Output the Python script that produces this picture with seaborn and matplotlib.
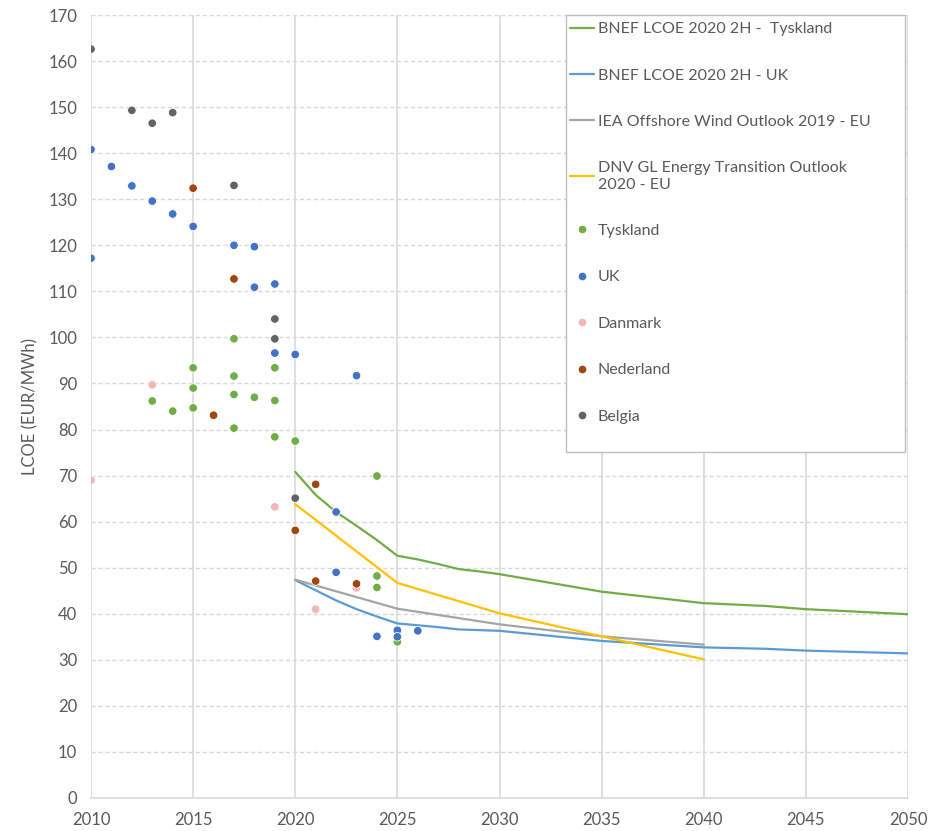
import numpy as np
import pandas as pd
import matplotlib
matplotlib.use("Agg")
import matplotlib.pyplot as plt
import seaborn as sns
from matplotlib.lines import Line2D
from matplotlib.patches import Rectangle

# --- auction / project data points (year, LCOE EUR/MWh) ---
tyskland_year = [2013, 2014, 2015, 2015, 2015, 2017, 2017, 2017, 2017, 2018,
                 2019, 2019, 2019, 2020, 2024, 2024, 2024, 2025]
tyskland_val = [86.2, 84.0, 93.4, 89.0, 84.7, 99.7, 91.6, 87.6, 80.3, 87.0,
                93.4, 86.3, 78.4, 77.5, 69.9, 48.2, 45.7, 33.9]

uk_year = [2010, 2010, 2011, 2012, 2013, 2014, 2015, 2017, 2018, 2018,
           2019, 2019, 2020, 2022, 2022, 2023, 2024, 2025, 2025, 2026]
uk_val = [140.8, 117.2, 137.1, 132.9, 129.6, 126.8, 124.1, 120.0, 119.7, 110.9,
          111.6, 96.6, 96.3, 62.1, 49.0, 91.7, 35.1, 36.4, 35.0, 36.3]

danmark_year = [2010, 2013, 2019, 2021, 2023]
danmark_val = [69.0, 89.7, 63.2, 41.0, 45.6]

nederland_year = [2015, 2016, 2017, 2020, 2021, 2021, 2023]
nederland_val = [132.4, 83.1, 112.7, 58.1, 68.1, 47.1, 46.5]

belgia_year = [2010, 2012, 2013, 2014, 2017, 2019, 2019, 2020]
belgia_val = [162.6, 149.3, 146.5, 148.8, 133.0, 104.0, 99.7, 65.1]

# --- outlook curves ---
bnef_de_year = [2020, 2021, 2022, 2023, 2024, 2025, 2026, 2027, 2028, 2029,
                2030, 2035, 2040, 2043, 2045, 2050]
bnef_de_val = [70.8, 65.8, 62.1, 59.1, 56.0, 52.6, 51.8, 50.8, 49.7, 49.2,
               48.6, 44.8, 42.3, 41.7, 41.0, 39.9]

bnef_uk_year = [2020, 2021, 2022, 2023, 2024, 2025, 2026, 2027, 2028, 2030,
                2035, 2040, 2043, 2045, 2050]
bnef_uk_val = [47.3, 45.1, 42.9, 41.0, 39.4, 37.9, 37.5, 37.1, 36.6, 36.3,
               34.1, 32.7, 32.4, 32.0, 31.4]

iea_year = [2020, 2025, 2030, 2035, 2040]
iea_val = [47.4, 41.1, 37.7, 35.1, 33.3]

dnv_year = [2020, 2025, 2030, 2035, 2040]
dnv_val = [63.8, 46.7, 40.1, 35.1, 30.1]

line_names = ["BNEF LCOE 2020 2H -  Tyskland", "BNEF LCOE 2020 2H - UK",
              "IEA Offshore Wind Outlook 2019 - EU",
              "DNV GL Energy Transition Outlook\n2020 - EU"]
line_colors = ["#70AD47", "#5B9BD5", "#A5A5A5", "#FFC000"]
point_names = ["Tyskland", "UK", "Danmark", "Nederland", "Belgia"]
point_colors = ["#70AD47", "#4472C4", "#F4B6B6", "#9E480E", "#636363"]

lines_df = pd.concat([
    pd.DataFrame({"year": y, "lcoe": v, "serie": n})
    for y, v, n in zip([bnef_de_year, bnef_uk_year, iea_year, dnv_year],
                       [bnef_de_val, bnef_uk_val, iea_val, dnv_val], line_names)
])
points_df = pd.concat([
    pd.DataFrame({"year": y, "lcoe": v, "land": n})
    for y, v, n in zip([tyskland_year, uk_year, danmark_year, nederland_year, belgia_year],
                       [tyskland_val, uk_val, danmark_val, nederland_val, belgia_val],
                       point_names)
])

sns.set_theme(style="white")
plt.rcParams["font.family"] = ["Lato", "DejaVu Sans"]

fig = plt.figure(figsize=(9.5, 8.31), dpi=100)
ax = fig.add_axes([91 / 950, 1 - 798 / 831, 817 / 950, 783 / 831])

sns.lineplot(data=lines_df, x="year", y="lcoe", hue="serie", hue_order=line_names,
             palette=line_colors, linewidth=1.6, legend=False, ax=ax, zorder=2)
sns.scatterplot(data=points_df, x="year", y="lcoe", hue="land", hue_order=point_names,
                palette=point_colors, s=38, edgecolor="white", linewidth=0.6,
                legend=False, ax=ax, zorder=3)

ax.set_xlim(2010, 2050)
ax.set_ylim(0, 170)
ax.set_xticks(range(2010, 2051, 5))
ax.set_yticks(range(0, 171, 10))
ax.set_xlabel("")
ax.set_ylabel("LCOE (EUR/MWh)", fontsize=12, color="#595959", labelpad=7)

ax.grid(axis="x", color="#D9D9D9", linewidth=1.2, linestyle="-")
ax.grid(axis="y", color="#D9D9D9", linewidth=1.0, linestyle=(0, (3, 2)))
ax.set_axisbelow(True)
for side in ["top", "right", "left"]:
    ax.spines[side].set_visible(False)
ax.spines["bottom"].set_color("#D9D9D9")
ax.spines["bottom"].set_linewidth(1.2)
ax.tick_params(axis="x", colors="#595959", labelsize=12, length=4, width=1,
               color="#D9D9D9", direction="out", pad=6)
ax.tick_params(axis="y", colors="#595959", labelsize=12, length=0, pad=10)

# legend box (Excel style, fixed frame)
frame = Rectangle((566 / 950, 1 - 452 / 831), 339 / 950, 437 / 831,
                  transform=fig.transFigure, facecolor="white", edgecolor="#BFBFBF",
                  linewidth=1.0, zorder=4, clip_on=False)
ax.add_artist(frame)

handles = [Line2D([0], [0], color=c, lw=1.6) for c in line_colors]
handles += [Line2D([0], [0], marker="o", linestyle="", markersize=4.5,
                   markerfacecolor=c, markeredgecolor=c) for c in point_colors]
leg = ax.legend(handles, line_names + point_names, loc="upper left",
                bbox_to_anchor=(562 / 950, 1 - 14 / 831), bbox_transform=fig.transFigure,
                frameon=False, fontsize=11.5, labelspacing=2.02,
                handlelength=1.5, handletextpad=0.25, borderpad=0.5, borderaxespad=0)
leg.set_zorder(5)
for t in leg.get_texts():
    t.set_color("#595959")

fig.savefig("out.png", dpi=100)
